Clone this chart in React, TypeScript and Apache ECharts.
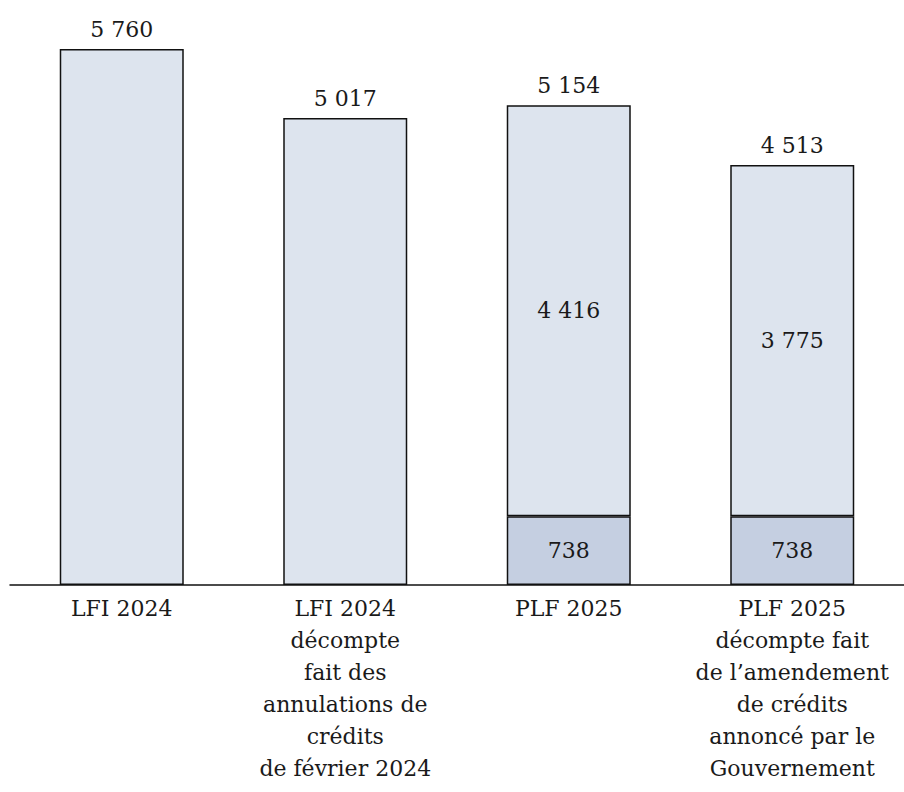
import React, { useEffect, useRef } from "react";
import * as echarts from "echarts";

const categories = [
  "LFI 2024",
  "LFI 2024\ndécompte\nfait des\nannulations de\ncrédits\nde février 2024",
  "PLF 2025",
  "PLF 2025\ndécompte fait\nde l’amendement\nde crédits\nannoncé par le\nGouvernement",
];
const baseValues: (number | null)[] = [null, null, 738, 738];
const upperValues = [5760, 5017, 4416, 3775];
const totals = [5760, 5017, 5154, 4513];
const showUpperLabel = [false, false, true, true];

const fmt = (v: number) => String(v).replace(/\B(?=(\d{3})+(?!\d))/g, " ");

const FONT = "DejaVu Serif";
const TEXT = "#1a1a1a";

export default function App() {
  const ref = useRef<HTMLDivElement>(null);
  useEffect(() => {
    const chart = echarts.init(ref.current!, null, { renderer: "svg" });
    chart.setOption({
      animation: false,
      backgroundColor: "#ffffff",
      textStyle: { fontFamily: FONT, color: TEXT },
      grid: { left: 10, right: 0, top: 26.6, bottom: 207, containLabel: false },
      xAxis: {
        type: "category",
        data: categories,
        axisLine: { show: true, lineStyle: { color: "#111", width: 1.5 } },
        axisTick: { show: false },
        axisLabel: {
          interval: 0,
          fontFamily: FONT,
          fontSize: 22,
          lineHeight: 32,
          color: TEXT,
          margin: 7,
        },
      },
      yAxis: { type: "value", min: 0, max: 6000, show: false, splitLine: { show: false } },
      series: [
        {
          type: "bar",
          stack: "s",
          barWidth: 124,
          data: baseValues,
          itemStyle: { color: "#c5cfe1", borderColor: "#111", borderWidth: 1.5 },
          label: {
            show: true,
            position: "inside",
            fontFamily: FONT,
            fontSize: 22,
            color: TEXT,
            formatter: (p: any) => fmt(p.value),
          },
        },
        {
          type: "bar",
          stack: "s",
          barWidth: 124,
          data: upperValues.map((v, i) => ({
            value: v,
            label: { show: showUpperLabel[i] },
          })),
          itemStyle: { color: "#dde4ee", borderColor: "#111", borderWidth: 1.5 },
          label: {
            show: false,
            position: "inside",
            fontFamily: FONT,
            fontSize: 22,
            color: TEXT,
            formatter: (p: any) => fmt(p.value),
          },
        },
        {
          type: "scatter",
          data: totals,
          symbol: "rect",
          symbolSize: [1, 1],
          itemStyle: { color: "#ffffff", opacity: 1 },
          label: {
            show: true,
            position: "top",
            distance: 8,
            fontFamily: FONT,
            fontSize: 22,
            color: TEXT,
            opacity: 1,
            formatter: (p: any) => fmt(p.value),
          },
          z: 1,
        },
      ],
    });
    return () => chart.dispose();
  }, []);
  return (
    <div
      ref={ref}
      style={{ position: "fixed", left: 0, top: 0, width: 904, height: 792 }}
    />
  );
}
